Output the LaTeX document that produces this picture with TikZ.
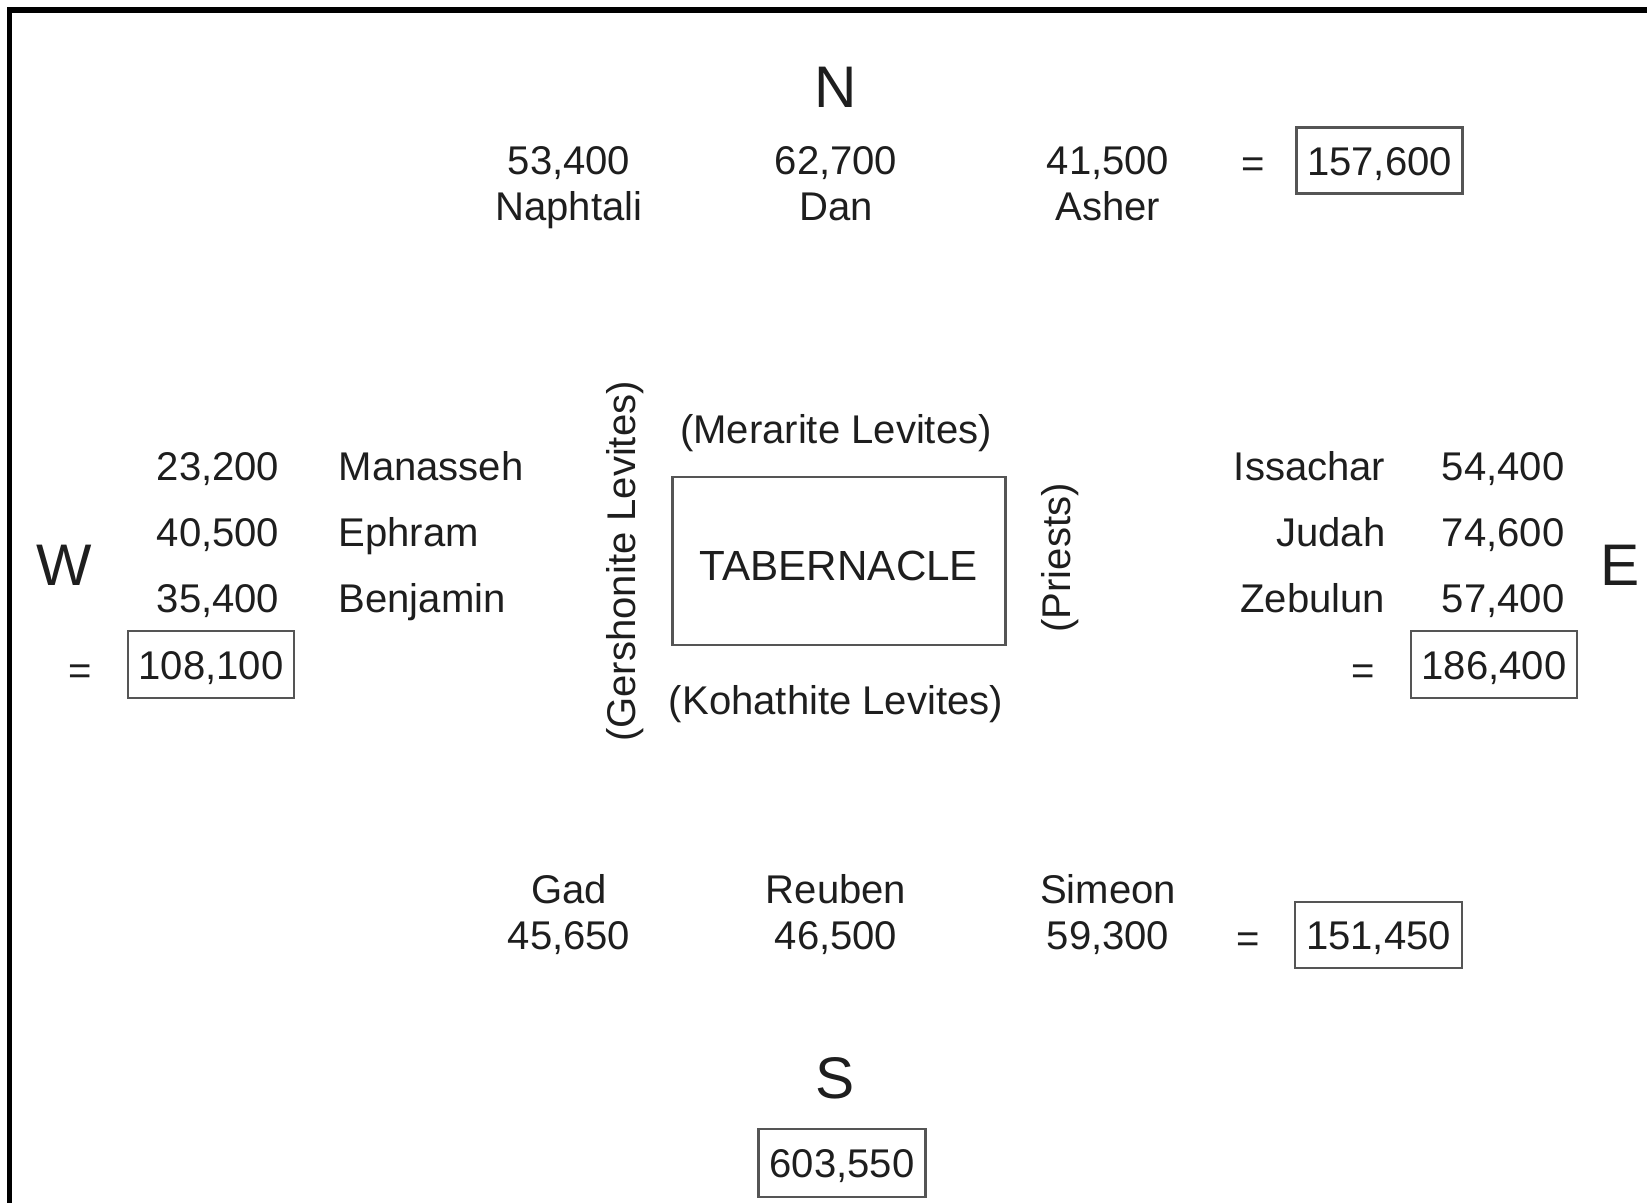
\documentclass[tikz,border=0pt]{standalone}
\usepackage{fontspec}
\setmainfont{Liberation Sans}
\usepackage{tikz}
\usetikzlibrary{positioning}
\definecolor{inkgray}{RGB}{30,30,30}
\definecolor{boxgray}{RGB}{85,85,85}

\begin{document}
\begin{tikzpicture}[
  lbl/.style={font=\fontsize{11.4}{13}\selectfont, text=inkgray,
              text height=0.29cm, text depth=0pt, inner sep=0pt},
  cmp/.style={font=\fontsize{16.7}{19}\selectfont, text=inkgray,
              text height=0.42cm, text depth=0pt, inner sep=0pt},
  tot/.style={lbl, draw=boxgray, line width=0.6pt,
              minimum width=1.66cm, minimum height=0.66cm},
  tab/.style={lbl, font=\fontsize{12}{14}\selectfont, text height=0.39cm,
              draw=boxgray, line width=0.6pt,
              minimum width=3.33cm, minimum height=1.68cm},
  frame/.style={line width=1.6pt, black}
]
\useasboundingbox (0,0) rectangle (16.47,-12.03);

%% ---------- FRAME ----------
\draw[frame] (0.095,-12.03) |- (16.47,-0.10);

%% ---------- NORTH (Dan camp) ----------
\node[cmp] (north) at (8.36,-0.865) {N};
\node[lbl] (naph)  at (5.69,-1.60)  {53,400};
\node[lbl, below=0.16cm of naph]  (naphN) {Naphtali};
\node[lbl] (dan)   at (8.36,-1.60)  {62,700};
\node[lbl, below=0.16cm of dan]   (danN)  {Dan};
\node[lbl] (ash)   at (11.08,-1.60) {41,500};
\node[lbl, below=0.16cm of ash]   (ashN)  {Asher};
\node[lbl] (eqN)   at (12.53,-1.63) {=};
\node[tot] (totN)  at (13.795,-1.605) {157,600};

%% ---------- CENTRE (Levites around the tabernacle) ----------
\node[lbl] (merar) at (8.36,-4.29) {(Merarite Levites)};
\node[tab] (tabr)  at (8.39,-5.61)  {TABERNACLE};
\node[lbl] (kohat) at (8.36,-7.00) {(Kohathite Levites)};
\node[lbl, rotate=90] (gersh) at (6.21,-5.615) {(Gershonite Levites)};
\node[lbl, rotate=90] (priest) at (10.56,-5.58) {(Priests)};

%% ---------- WEST (Ephraim camp) ----------
\node[cmp] (west) at (0.645,-5.64) {W};
\node[lbl, anchor=east] (man) at (2.80,-4.66) {23,200};
\node[lbl, anchor=east] (eph) at (2.80,-5.32) {40,500};
\node[lbl, anchor=east] (ben) at (2.80,-5.98) {35,400};
\node[lbl, anchor=west] (manN) at (3.38,-4.66) {Manasseh};
\node[lbl, anchor=west] (ephN) at (3.38,-5.32) {Ephram};
\node[lbl, anchor=west] (benN) at (3.38,-5.98) {Benjamin};
\node[lbl] (eqW)  at (0.80,-6.70) {=};
\node[tot, minimum width=1.66cm, minimum height=0.67cm] (totW) at (2.11,-6.645) {108,100};

%% ---------- EAST (Judah camp) ----------
\node[cmp] (east) at (16.20,-5.64) {E};
\node[lbl, anchor=east] (issN) at (13.86,-4.66) {Issachar};
\node[lbl, anchor=east] (judN) at (13.86,-5.32) {Judah};
\node[lbl, anchor=east] (zebN) at (13.86,-5.98) {Zebulun};
\node[lbl, anchor=east] (iss)  at (15.65,-4.66) {54,400};
\node[lbl, anchor=east] (jud)  at (15.65,-5.32) {74,600};
\node[lbl, anchor=east] (zeb)  at (15.65,-5.98) {57,400};
\node[lbl] (eqE)  at (13.635,-6.70) {=};
\node[tot, minimum width=1.66cm, minimum height=0.67cm] (totE) at (14.94,-6.645) {186,400};

%% ---------- SOUTH (Reuben camp) ----------
\node[lbl] (gadN) at (5.69,-8.89)  {Gad};
\node[lbl, below=0.16cm of gadN] (gad) {45,650};
\node[lbl] (reuN) at (8.36,-8.89)  {Reuben};
\node[lbl, below=0.16cm of reuN] (reu) {46,500};
\node[lbl] (simN) at (11.08,-8.89) {Simeon};
\node[lbl, below=0.16cm of simN] (sim) {59,300};
\node[lbl] (eqS)  at (12.48,-9.38) {=};
\node[tot, minimum width=1.67cm] (totS) at (13.785,-9.35) {151,450};

%% ---------- GRAND TOTAL ----------
\node[cmp] (south) at (8.35,-10.77) {S};
\node[tot, minimum width=1.67cm, minimum height=0.68cm] (grand) at (8.42,-11.63) {603,550};

\end{tikzpicture}
\end{document}
